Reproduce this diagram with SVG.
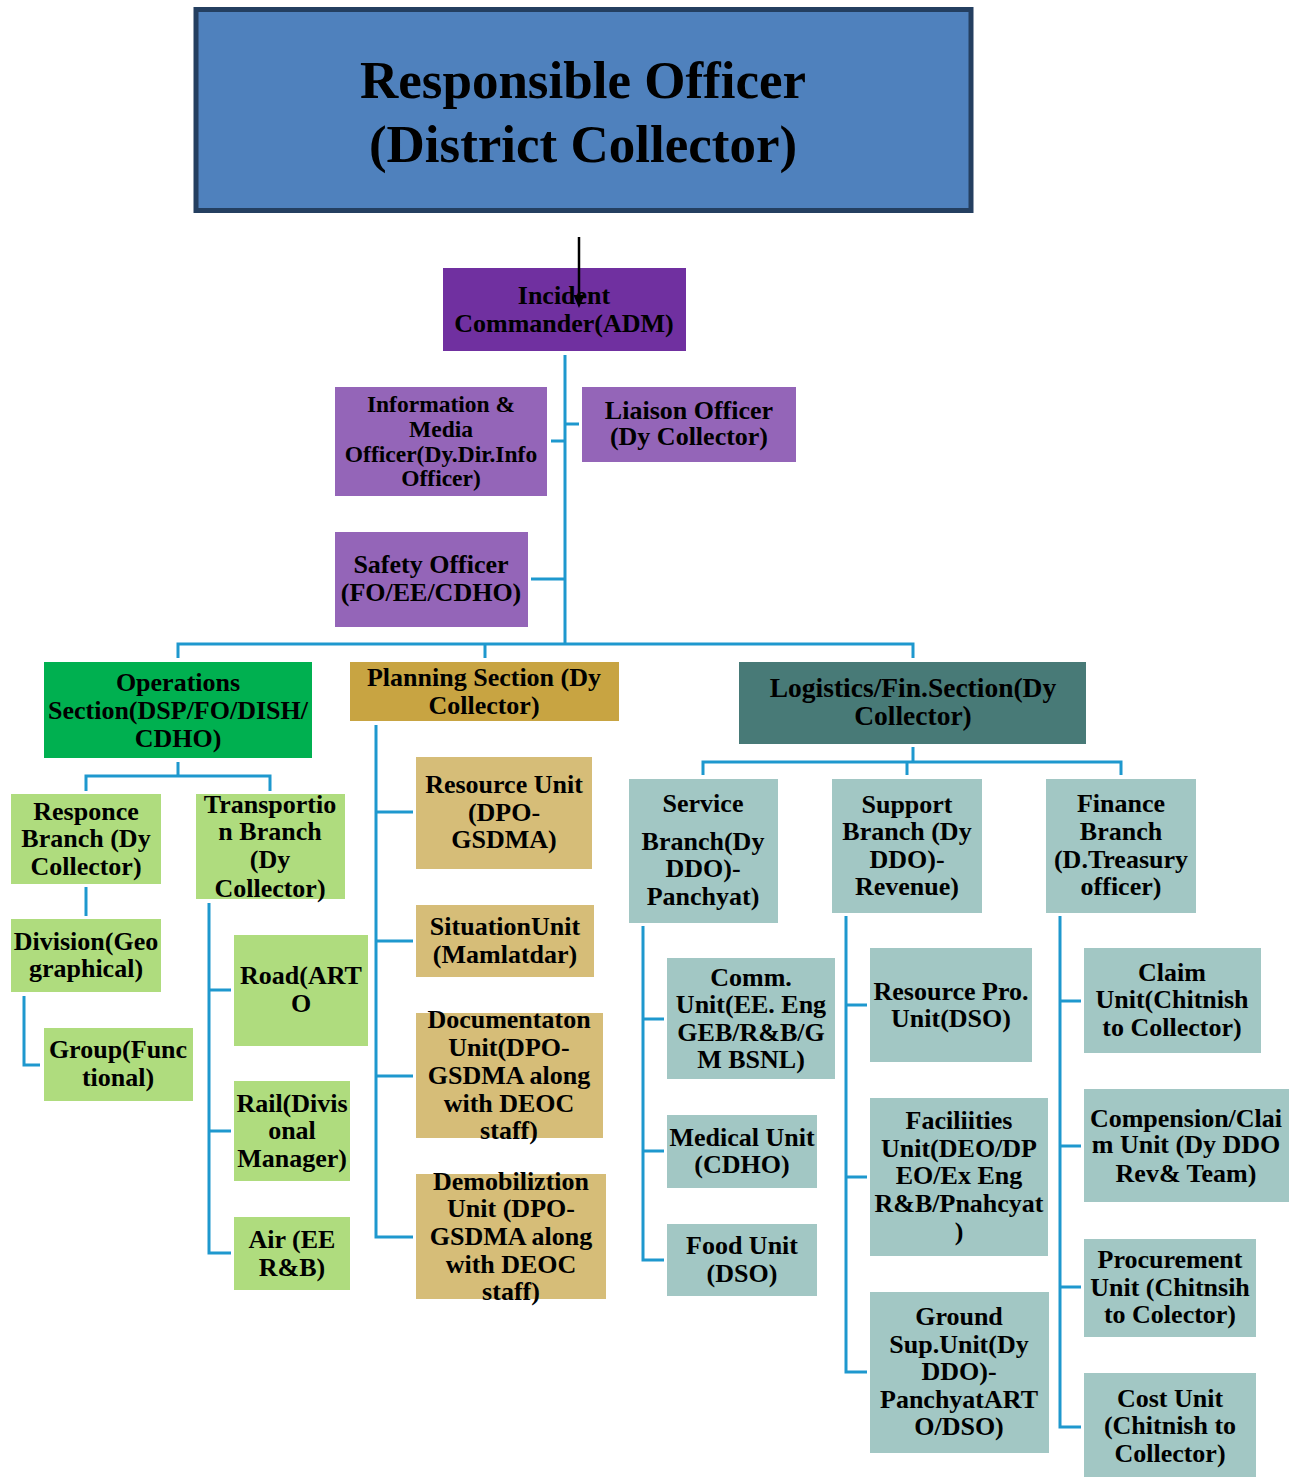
<svg xmlns="http://www.w3.org/2000/svg" width="1296" height="1477" viewBox="0 0 1296 1477">
<style>
text{font-family:"Liberation Serif","Times New Roman",serif;font-weight:bold;fill:#000;text-anchor:middle;font-size:26px}
.big{font-size:53px}
.sm{font-size:23.5px}
.lg{font-size:27.5px}
.ln{fill:none;stroke:#1E98CE;stroke-width:3}
.top{fill:#4F81BD;stroke:#243F60;stroke-width:5}
.ic{fill:#7030A0}
.pur{fill:#9465B8}
.ops{fill:#00B050}
.lgr{fill:#AFDC7E}
.pln{fill:#C8A442}
.plu{fill:#D6BD78}
.log{fill:#487A77}
.tea{fill:#A2C7C4}
</style>
<rect width="1296" height="1477" fill="#fff"/>

<g id="connectors">
<path class="ln" d="M565,355 V644"/>
<path class="ln" d="M551,441 H565 M565,424 H579 M531,579 H565"/>
<path class="ln" d="M178,658 V644 H913 V658 M485,644 V658"/>
<path class="ln" d="M178,762 V776 M86,791 V776 H270 V791"/>
<path class="ln" d="M86,887 V916"/>
<path class="ln" d="M24,996 V1065 H40"/>
<path class="ln" d="M209,903 V1253 H231 M209,990 H231 M209,1131 H231"/>
<path class="ln" d="M376,725 V1237 H413 M376,812 H413 M376,941 H413 M376,1076 H413"/>
<path class="ln" d="M913,747 V762 M703,775 V762 H1121 V775 M907,762 V775"/>
<path class="ln" d="M643,926 V1260 H664 M643,1019 H664 M643,1151 H664"/>
<path class="ln" d="M846,916 V1372 H867 M846,1005 H867 M846,1177 H867"/>
<path class="ln" d="M1060,916 V1427 H1081 M1060,1001 H1081 M1060,1146 H1081 M1060,1287 H1081"/>
</g>

<g id="n-responsible">
<rect class="top" x="196" y="9.5" width="775" height="201"/>
<text class="big" x="583" y="98">Responsible Officer</text>
<text class="big" x="583" y="162">(District Collector)</text>
</g>

<g id="n-incident">
<rect class="ic" x="443" y="268" width="243" height="83"/>
<text x="564" y="304">Incident</text>
<text x="564" y="332">Commander(ADM)</text>
</g>

<g id="arrow-connector">
<line x1="579" y1="237" x2="579" y2="298" stroke="#000" stroke-width="2.5"/>
<path d="M573.5,295 L584.5,295 L579,308 z" fill="#000"/>
</g>

<g id="n-info">
<rect class="pur" x="335" y="387" width="212" height="109"/>
<text class="sm" x="441" y="412">Information &amp;</text>
<text class="sm" x="441" y="437">Media</text>
<text class="sm" x="441" y="462">Officer(Dy.Dir.Info</text>
<text class="sm" x="441" y="486">Officer)</text>
</g>

<g id="n-liaison">
<rect class="pur" x="582" y="387" width="214" height="75"/>
<text x="689" y="419">Liaison Officer</text>
<text x="689" y="445">(Dy Collector)</text>
</g>

<g id="n-safety">
<rect class="pur" x="335" y="532" width="193" height="95"/>
<text x="431" y="573">Safety Officer</text>
<text x="431" y="601">(FO/EE/CDHO)</text>
</g>

<g id="n-operations">
<rect class="ops" x="44" y="662" width="268" height="96"/>
<text x="178" y="691">Operations</text>
<text x="178" y="719">Section(DSP/FO/DISH/</text>
<text x="178" y="747">CDHO)</text>
</g>

<g id="n-responce">
<rect class="lgr" x="11" y="794" width="150" height="90"/>
<text x="86" y="820">Responce</text>
<text x="86" y="847">Branch (Dy</text>
<text x="86" y="875">Collector)</text>
</g>

<g id="n-transport">
<rect class="lgr" x="196" y="794" width="149" height="105"/>
<text x="270" y="813">Transportio</text>
<text x="270" y="840">n Branch</text>
<text x="270" y="868">(Dy</text>
<text x="270" y="897">Collector)</text>
</g>

<g id="n-division">
<rect class="lgr" x="11" y="919" width="150" height="73"/>
<text x="86" y="950">Division(Geo</text>
<text x="86" y="977">graphical)</text>
</g>

<g id="n-group">
<rect class="lgr" x="44" y="1028" width="149" height="73"/>
<text x="118" y="1058">Group(Func</text>
<text x="118" y="1086">tional)</text>
</g>

<g id="n-road">
<rect class="lgr" x="234" y="935" width="134" height="111"/>
<text x="301" y="984">Road(ART</text>
<text x="301" y="1012">O</text>
</g>

<g id="n-rail">
<rect class="lgr" x="234" y="1081" width="116" height="100"/>
<text x="292" y="1112">Rail(Divis</text>
<text x="292" y="1139">onal</text>
<text x="292" y="1167">Manager)</text>
</g>

<g id="n-air">
<rect class="lgr" x="234" y="1217" width="116" height="73"/>
<text x="292" y="1248">Air (EE</text>
<text x="292" y="1276">R&amp;B)</text>
</g>

<g id="n-planning">
<rect class="pln" x="350" y="662" width="269" height="59"/>
<text x="484" y="686">Planning Section (Dy</text>
<text x="484" y="714">Collector)</text>
</g>

<g id="n-resource">
<rect class="plu" x="416" y="757" width="176" height="112"/>
<text x="504" y="793">Resource Unit</text>
<text x="504" y="821">(DPO-</text>
<text x="504" y="848">GSDMA)</text>
</g>

<g id="n-situation">
<rect class="plu" x="416" y="905" width="178" height="72"/>
<text x="505" y="935">SituationUnit</text>
<text x="505" y="963">(Mamlatdar)</text>
</g>

<g id="n-documentation">
<rect class="plu" x="416" y="1013" width="187" height="125"/>
<text x="509" y="1028">Documentaton</text>
<text x="509" y="1056">Unit(DPO-</text>
<text x="509" y="1084">GSDMA along</text>
<text x="509" y="1112">with DEOC</text>
<text x="509" y="1139">staff)</text>
</g>

<g id="n-demob">
<rect class="plu" x="416" y="1174" width="190" height="125"/>
<text x="511" y="1190">Demobiliztion</text>
<text x="511" y="1217">Unit (DPO-</text>
<text x="511" y="1245">GSDMA along</text>
<text x="511" y="1273">with DEOC</text>
<text x="511" y="1300">staff)</text>
</g>

<g id="n-logistics">
<rect class="log" x="739" y="662" width="347" height="82"/>
<text class="lg" x="913" y="697">Logistics/Fin.Section(Dy</text>
<text class="lg" x="913" y="725">Collector)</text>
</g>

<g id="n-service">
<rect class="tea" x="629" y="779" width="149" height="144"/>
<text x="703" y="812">Service</text>
<text x="703" y="850">Branch(Dy</text>
<text x="703" y="877">DDO)-</text>
<text x="703" y="905">Panchyat)</text>
</g>

<g id="n-support">
<rect class="tea" x="832" y="779" width="150" height="134"/>
<text x="907" y="813">Support</text>
<text x="907" y="840">Branch (Dy</text>
<text x="907" y="868">DDO)-</text>
<text x="907" y="895">Revenue)</text>
</g>

<g id="n-finance">
<rect class="tea" x="1046" y="779" width="150" height="134"/>
<text x="1121" y="812">Finance</text>
<text x="1121" y="840">Branch</text>
<text x="1121" y="868">(D.Treasury</text>
<text x="1121" y="895">officer)</text>
</g>

<g id="n-comm">
<rect class="tea" x="667" y="958" width="168" height="121"/>
<text x="751" y="986">Comm.</text>
<text x="751" y="1013">Unit(EE. Eng</text>
<text x="751" y="1041">GEB/R&amp;B/G</text>
<text x="751" y="1068">M BSNL)</text>
</g>

<g id="n-medical">
<rect class="tea" x="667" y="1115" width="150" height="73"/>
<text x="742" y="1146">Medical Unit</text>
<text x="742" y="1173">(CDHO)</text>
</g>

<g id="n-food">
<rect class="tea" x="667" y="1224" width="150" height="72"/>
<text x="742" y="1254">Food Unit</text>
<text x="742" y="1282">(DSO)</text>
</g>

<g id="n-resourcepro">
<rect class="tea" x="870" y="948" width="162" height="114"/>
<text x="951" y="1000">Resource Pro.</text>
<text x="951" y="1027">Unit(DSO)</text>
</g>

<g id="n-facilities">
<rect class="tea" x="870" y="1098" width="178" height="158"/>
<text x="959" y="1129">Faciliities</text>
<text x="959" y="1157">Unit(DEO/DP</text>
<text x="959" y="1184">EO/Ex Eng</text>
<text x="959" y="1212">R&amp;B/Pnahcyat</text>
<text x="959" y="1240">)</text>
</g>

<g id="n-ground">
<rect class="tea" x="870" y="1292" width="179" height="161"/>
<text x="959" y="1325">Ground</text>
<text x="959" y="1353">Sup.Unit(Dy</text>
<text x="959" y="1380">DDO)-</text>
<text x="959" y="1408">PanchyatART</text>
<text x="959" y="1435">O/DSO)</text>
</g>

<g id="n-claim">
<rect class="tea" x="1084" y="948" width="177" height="105"/>
<text x="1172" y="981">Claim</text>
<text x="1172" y="1008">Unit(Chitnish</text>
<text x="1172" y="1036">to Collector)</text>
</g>

<g id="n-compension">
<rect class="tea" x="1084" y="1089" width="205" height="113"/>
<text x="1186" y="1127">Compension/Clai</text>
<text x="1186" y="1153">m Unit (Dy DDO</text>
<text x="1186" y="1182">Rev&amp; Team)</text>
</g>

<g id="n-procurement">
<rect class="tea" x="1084" y="1239" width="172" height="98"/>
<text x="1170" y="1268">Procurement</text>
<text x="1170" y="1296">Unit (Chitnsih</text>
<text x="1170" y="1323">to Colector)</text>
</g>

<g id="n-cost">
<rect class="tea" x="1084" y="1373" width="172" height="104"/>
<text x="1170" y="1407">Cost Unit</text>
<text x="1170" y="1434">(Chitnish to</text>
<text x="1170" y="1462">Collector)</text>
</g>
</svg>
